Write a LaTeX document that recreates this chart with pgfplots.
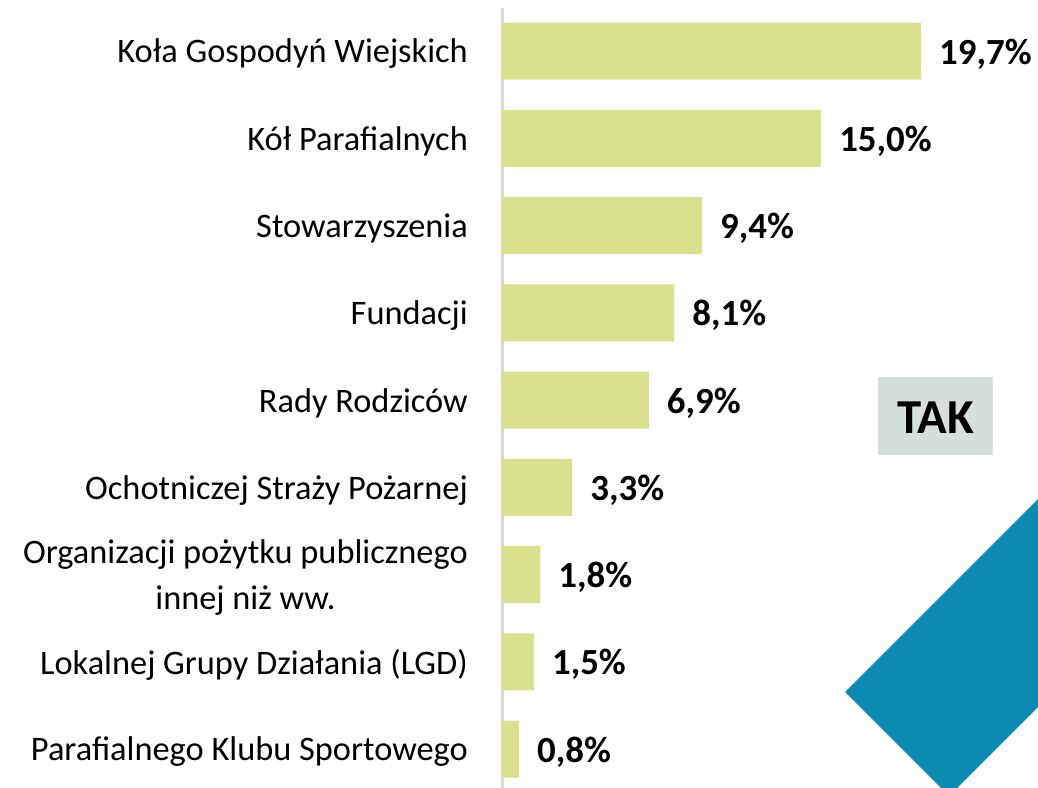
\documentclass[border=0pt]{standalone}
\usepackage{pgfplots}
\pgfplotsset{compat=1.18}
\usepackage{fontspec}
\setmainfont{Carlito}
\definecolor{barcol}{RGB}{217,225,140}
\definecolor{axisgray}{RGB}{217,217,217}
\definecolor{takbg}{RGB}{214,224,218}
\definecolor{blueshape}{RGB}{11,138,178}
\begin{document}
\begin{tikzpicture}[x=1bp,y=1bp]
\useasboundingbox (0,0) rectangle (1038,788);
\fill[blueshape] (845,96) -- (1038,289) -- (1038,81) -- (957,0) -- (941,0) -- cycle;
\node[fill=takbg, minimum width=115bp, minimum height=78bp, inner sep=0pt] at (935.5,372) {};
\node[inner sep=0pt, font=\fontsize{49}{55}\selectfont\bfseries] at (935.5,370) {TAK};
\begin{axis}[
  at={(502bp,0bp)}, anchor=south west,
  scale only axis, width=536bp, height=780bp,
  xmin=0, xmax=25.2, ymin=-0.493, ymax=8.447, y dir=reverse,
  axis y line*=left, axis x line=none,
  axis line style={draw=axisgray, line width=3bp, -},
  xbar, bar width=57bp, bar shift=0pt,
  ytick={0,...,8}, major tick length=0pt, ytick style={draw=none},
  yticklabels={Koła Gospodyń Wiejskich, Kół Parafialnych, Stowarzyszenia, Fundacji, Rady Rodziców, Ochotniczej Straży Pożarnej, {Organizacji pożytku publicznego\\innej niż ww.}, Lokalnej Grupy Działania (LGD), Parafialnego Klubu Sportowego},
  yticklabel style={font=\fontsize{34.5}{47}\selectfont, align=center, inner sep=0pt, anchor=east, xshift=-34bp, yshift=-3bp},
  clip=false,
  point meta=x,
  nodes near coords={\pgfmathprintnumber[assume math mode=true,fixed,fixed zerofill,precision=1,use comma]{\pgfplotspointmeta}\%},
  nodes near coords style={font=\fontsize{37}{44}\selectfont\bfseries, anchor=west, inner sep=0pt, xshift=18bp, yshift=-3bp},
]
\addplot[fill=barcol, draw=none] coordinates {
(19.7,0) (15.0,1) (9.4,2) (8.1,3) (6.9,4) (3.3,5) (1.8,6) (1.5,7) (0.8,8)
};
\end{axis}
\end{tikzpicture}
\end{document}
